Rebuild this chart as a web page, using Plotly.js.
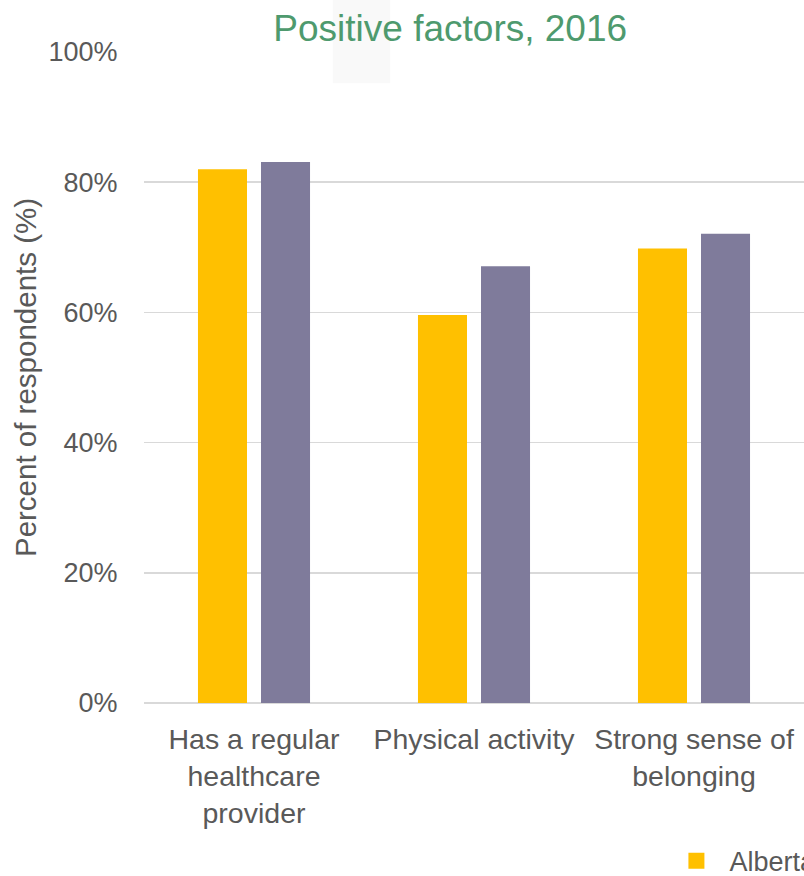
<!DOCTYPE html>
<html>
<head>
<meta charset="utf-8">
<script src="https://cdn.plot.ly/plotly-3.0.1.min.js"></script>
<style>html,body{margin:0;padding:0;background:#fff;}#chart{width:804px;height:876px;}</style>
</head>
<body>
<div id="chart"></div>
<script>
const categories = ["Has a regular<br>healthcare<br>provider", "Physical activity", "Strong sense of<br>belonging"];
const seriesNames = ["Alberta", "Canada"];
const albertaValues = [82.0, 59.6, 69.8];
const canadaValues = [83.1, 67.1, 72.1];
const yTickValues = [0, 20, 40, 60, 80, 100];
const yTickLabels = ["0%", "20%", "40%", "60%", "80%", "100%"];

const FONT = "Liberation Sans, Arial, sans-serif";
const GRAY = "#595959";
const YELLOW = "#FFC000";
const PURPLE = "#7F7B9B";

const traces = [
  {type: "bar", name: seriesNames[0], x: categories, y: albertaValues,
   marker: {color: YELLOW}, showlegend: false, hoverinfo: "skip"},
  {type: "bar", name: seriesNames[1], x: categories, y: canadaValues,
   marker: {color: PURPLE}, showlegend: false, hoverinfo: "skip"},
  // legend key for the first series (larger square symbol, as in the reference)
  {type: "scatter", mode: "markers", name: seriesNames[0], x: [null], y: [null],
   marker: {symbol: "square", size: 16, color: YELLOW}, showlegend: true, hoverinfo: "skip"}
];

const layout = {
  width: 804, height: 876,
  margin: {l: 144, r: 0, t: 52, b: 173, autoexpand: false},
  paper_bgcolor: "#fff", plot_bgcolor: "#fff",
  font: {family: FONT, color: GRAY, size: 27},
  barmode: "group", bargap: 0.427, bargroupgap: 0.222,
  title: {text: "Positive factors, 2016", font: {family: FONT, size: 37, color: "#4E9A6E"},
          x: 0.56, xanchor: "center", xref: "container", y: 0.968, yanchor: "middle", yref: "container"},
  xaxis: {type: "category", showgrid: false, showline: false, zeroline: false,
          ticks: "outside", ticklen: 11, tickcolor: "rgba(0,0,0,0)",
          tickfont: {family: FONT, size: 28.5, color: GRAY}, automargin: false},
  yaxis: {range: [0, 100], tickvals: yTickValues, ticktext: yTickLabels,
          showgrid: true, gridcolor: "#D9D9D9", gridwidth: 1.5,
          zeroline: true, zerolinecolor: "#D9D9D9", zerolinewidth: 1.5,
          showline: false, ticks: "outside", ticklen: 20, tickcolor: "rgba(0,0,0,0)",
          tickfont: {family: FONT, size: 27, color: GRAY}, automargin: false,
          title: {text: "Percent of respondents (%)", font: {family: FONT, size: 29.5, color: GRAY}, standoff: 3}},
  legend: {orientation: "h", x: 0.787, xanchor: "left", y: -0.243, yanchor: "middle",
           itemwidth: 56, itemsizing: "trace",
           font: {family: FONT, size: 27, color: GRAY}, bgcolor: "rgba(0,0,0,0)"},
  shapes: [{type: "rect", xref: "paper", yref: "paper", x0: 0.286, x1: 0.373, y0: 0.952, y1: 1.08,
            fillcolor: "rgba(0,0,0,0.025)", line: {width: 0}, layer: "below"}]
};

Plotly.newPlot("chart", traces, layout, {staticPlot: true, displayModeBar: false});
</script>
</body>
</html>
